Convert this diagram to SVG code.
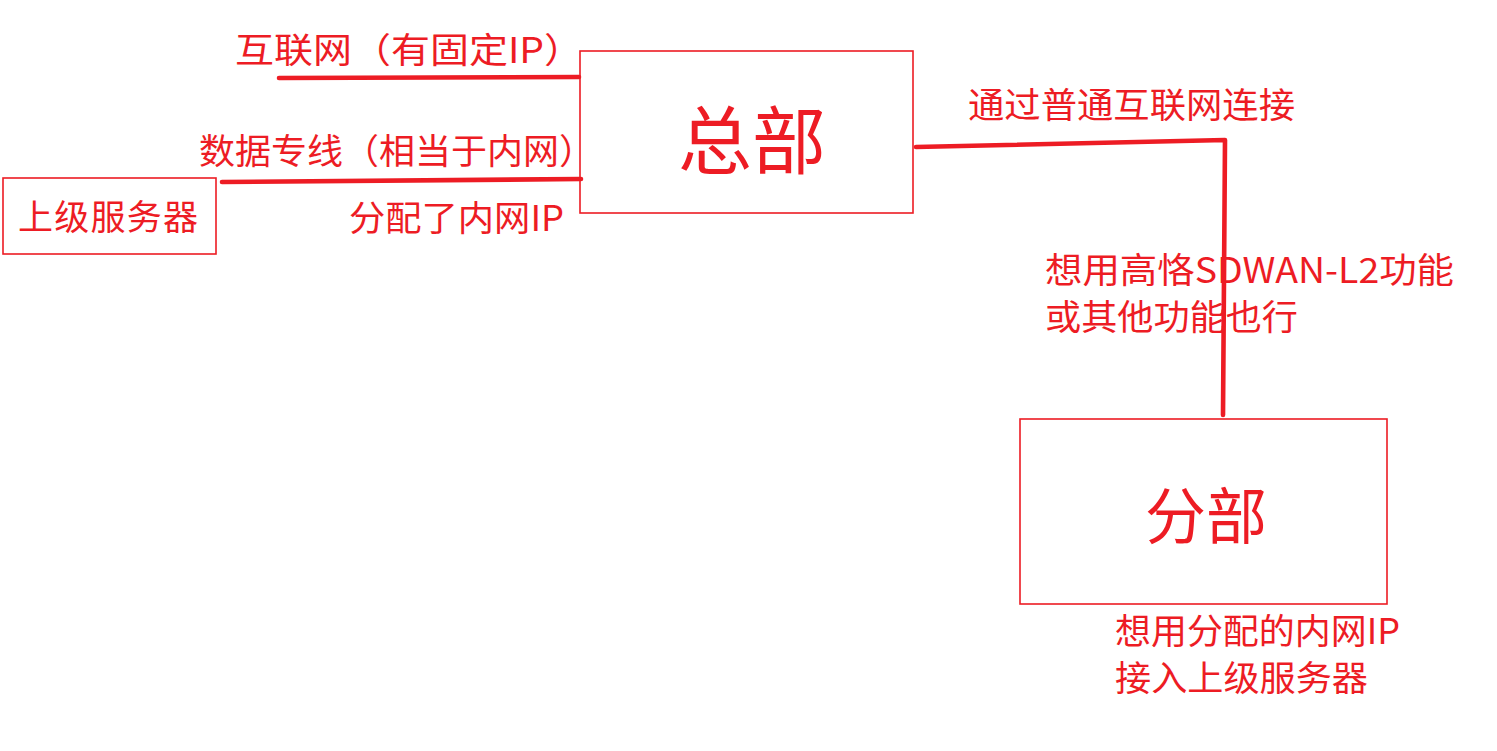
<svg xmlns="http://www.w3.org/2000/svg" width="1497" height="751" viewBox="0 0 1497 751">
<style>
.box{fill:none;stroke:#ED1C24;stroke-width:1.6}
.ln{fill:none;stroke:#ED1C24;stroke-width:4.6;stroke-linecap:round;stroke-linejoin:round}
text{fill:#ED1C24;font-family:"Noto Sans CJK SC","Noto Sans",sans-serif}
.t{font-size:35px}
</style>
<rect width="1497" height="751" fill="#ffffff"/>
<g id="connectors">
<path class="ln" d="M279,78 L579,77"/>
<path class="ln" d="M222,182 L581,179"/>
<path class="ln" d="M916,147 L1225,140 L1223,415"/>
</g>
<g id="hq">
<rect class="box" x="580" y="51" width="333" height="162"/>
<text x="752" y="168" font-size="74" text-anchor="middle">总部</text>
</g>
<g id="branch">
<rect class="box" x="1020" y="419" width="367" height="185"/>
<text x="1206" y="539" font-size="61" text-anchor="middle">分部</text>
</g>
<g id="upper-server">
<rect class="box" x="3" y="178" width="213" height="76"/>
<text class="t" x="18" y="230" textLength="180">上级服务器</text>
</g>
<g id="labels">
<text class="t" x="235" y="63" textLength="348" lengthAdjust="spacingAndGlyphs">互联网（有固定IP）</text>
<text class="t" x="199" y="164" textLength="396" lengthAdjust="spacingAndGlyphs">数据专线（相当于内网）</text>
<text class="t" x="349" y="231" textLength="215" lengthAdjust="spacingAndGlyphs">分配了内网IP</text>
<text class="t" x="968" y="118" textLength="327" lengthAdjust="spacingAndGlyphs">通过普通互联网连接</text>
<text class="t" x="1045" y="283" textLength="409" lengthAdjust="spacingAndGlyphs">想用高恪SDWAN-L2功能</text>
<text class="t" x="1045" y="330" textLength="253" lengthAdjust="spacingAndGlyphs">或其他功能也行</text>
<text class="t" x="1115" y="644" textLength="285" lengthAdjust="spacingAndGlyphs">想用分配的内网IP</text>
<text class="t" x="1115" y="691" textLength="253" lengthAdjust="spacingAndGlyphs">接入上级服务器</text>
</g>
</svg>
